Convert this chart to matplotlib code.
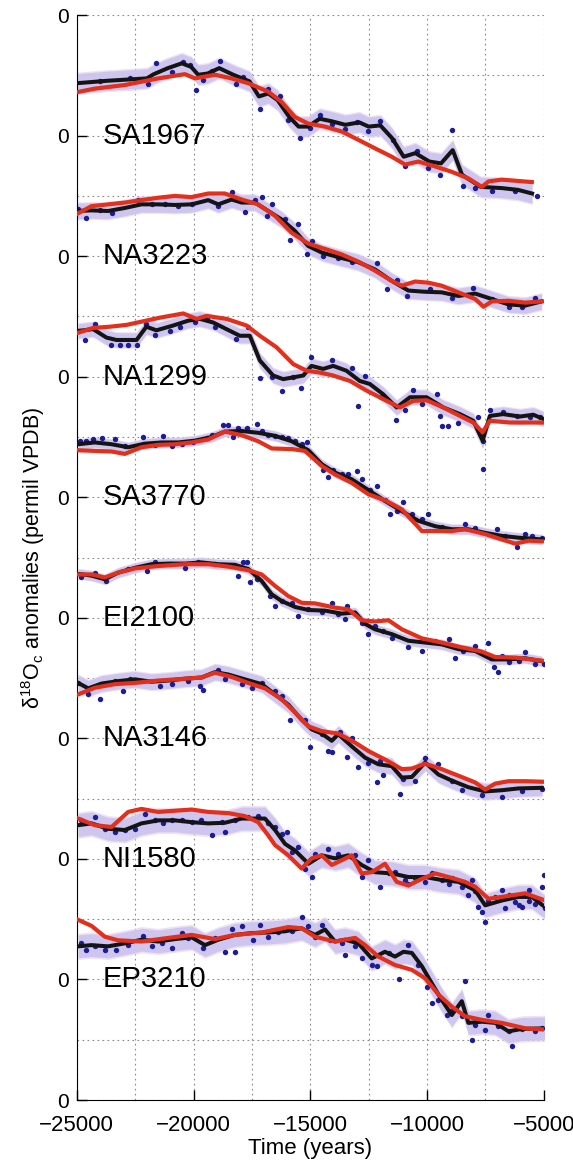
import numpy as np
import matplotlib.pyplot as plt
from matplotlib.ticker import MultipleLocator

plt.rcParams['font.family'] = ['Liberation Sans', 'DejaVu Sans']
plt.rcParams['mathtext.default'] = 'regular'

# core names, vertical offsets (permil) and half width of the shaded band
names = ['SA1967', 'NA3223', 'NA1299', 'SA3770', 'EI2100', 'NA3146', 'NI1580', 'EP3210']
offsets = [16, 14, 12, 10, 8, 6, 4, 2]
band_halfwidth = [0.16, 0.13, 0.12, 0.08, 0.08, 0.13, 0.19, 0.19]

# ---- SA1967 ----
sa1967_black_t = [-25000, -23700, -22000, -21700, -21100, -20500, -20100, -19800, -19400, -18900, -18300,
                  -17600, -17200, -16800, -16400, -15900, -15500, -15100, -14600, -14100, -13500, -12900,
                  -12500, -12000, -11500, -11000, -10500, -9900, -9400, -8900, -8500, -7700, -6800, -6100, -5500]
sa1967_black_v = [0.87, 0.91, 0.95, 1.02, 1.12, 1.20, 1.14, 1.01, 1.03, 1.12, 1.01, 0.90, 0.65, 0.70, 0.59,
                  0.31, 0.15, 0.15, 0.28, 0.24, 0.18, 0.22, 0.15, 0.17, -0.04, -0.35, -0.29, -0.43, -0.46,
                  -0.24, -0.65, -0.85, -0.87, -0.90, -0.96]
sa1967_red_t = [-25000, -24230, -22940, -21510, -20370, -19940, -19080, -18370, -17660, -16800, -16230,
                -15660, -15090, -14370, -13660, -12940, -12230, -11510, -10940, -10370, -9660, -8940,
                -8230, -7650, -7370, -6800, -5510]
sa1967_red_v = [0.72, 0.78, 0.84, 0.95, 1.02, 0.95, 1.01, 0.95, 0.87, 0.73, 0.56, 0.31, 0.20, 0.15, 0.07,
                -0.07, -0.21, -0.35, -0.48, -0.43, -0.51, -0.60, -0.71, -0.85, -0.76, -0.73, -0.77]
sa1967_dot_t = [-24010, -22730, -21940, -21590, -20940, -20440, -20160, -19900, -19590, -19230, -18870,
                -18160, -17870, -17160, -16800, -16300, -15940, -15440, -15010, -14580, -14080, -13510,
                -13010, -12510, -12010, -11440, -10940, -10440, -9940, -9440, -8940, -8440, -7940, -7230,
                -6230, -5300]
sa1967_dot_v = [0.91, 0.96, 0.85, 1.21, 1.06, 1.23, 1.17, 0.75, 0.92, 1.07, 1.24, 0.85, 0.98, 0.44, 0.77,
                0.65, 0.26, -0.04, 0.12, 0.34, 0.20, 0.11, 0.22, 0.08, 0.24, -0.07, -0.51, -0.25, -0.54,
                -0.66, 0.09, -0.83, -0.87, -0.92, -0.92, -1.00]

# ---- NA3223 ----
na3223_black_t = [-25000, -24370, -23660, -22940, -22230, -21510, -20800, -20080, -19370, -18940, -18370,
                  -17940, -17370, -16800, -16230, -15660, -15090, -14510, -13660, -12940, -12230, -11510,
                  -10800, -10090, -9370, -8660, -7940, -7230, -6510, -5800, -5090]
na3223_black_v = [0.75, 0.76, 0.75, 0.80, 0.86, 0.86, 0.85, 0.86, 0.93, 0.86, 0.94, 0.89, 0.89, 0.75, 0.61,
                  0.42, 0.17, 0.06, -0.03, -0.10, -0.22, -0.41, -0.57, -0.59, -0.60, -0.66, -0.62, -0.71,
                  -0.80, -0.82, -0.75]
na3223_red_t = [-25000, -24370, -23660, -22940, -22230, -21510, -20800, -20090, -19370, -18660, -17940,
                -17230, -16510, -15800, -15090, -14370, -13660, -12940, -12230, -11510, -11080, -10510,
                -9940, -9370, -8660, -7940, -7580, -7230, -6510, -5800, -5090]
na3223_red_v = [0.70, 0.83, 0.86, 0.89, 0.93, 0.97, 1.00, 0.98, 1.04, 1.04, 0.94, 0.86, 0.67, 0.39, 0.21,
                0.12, 0.03, -0.09, -0.24, -0.41, -0.49, -0.42, -0.44, -0.49, -0.60, -0.71, -0.84, -0.75,
                -0.74, -0.77, -0.75]
na3223_dot_t = [-24940, -24590, -24010, -23510, -22370, -21800, -21230, -20660, -20080, -18940, -18370,
                -17800, -17370, -17080, -16870, -16650, -16080, -15870, -15510, -15160, -14940, -14440,
                -13800, -13230, -12150, -11730, -11300, -10870, -9870, -8940, -8010, -7220, -6510, -5940,
                -5370]
na3223_dot_v = [0.78, 0.64, 0.76, 0.72, 0.94, 0.86, 0.87, 0.83, 0.86, 0.83, 1.06, 0.74, 0.94, 0.98, 0.67,
                0.87, 0.61, 0.27, 0.53, 0.03, 0.25, 0.01, -0.03, -0.09, -0.12, -0.55, -0.40, -0.66, -0.55,
                -0.69, -0.53, -0.71, -0.85, -0.84, -0.69]

# ---- NA1299 ----
na1299_black_t = [-24940, -24300, -23730, -23300, -22440, -22020, -21590, -20870, -20230, -19730, -19160,
                  -18590, -18020, -17590, -17160, -16590, -16160, -15730, -15300, -14950, -14450, -14020,
                  -13450, -12880, -12450, -11880, -11300, -10730, -10020, -9300, -8590, -8020, -7620,
                  -7310, -6740, -6020, -5450, -5020]
na1299_black_v = [0.76, 0.79, 0.65, 0.61, 0.61, 0.83, 0.77, 0.85, 0.93, 0.96, 0.90, 0.79, 0.68, 0.68, 0.27,
                  0.02, -0.04, -0.01, 0.02, 0.18, 0.13, 0.18, 0.10, -0.07, -0.12, -0.29, -0.51, -0.34,
                  -0.34, -0.51, -0.62, -0.73, -1.06, -0.65, -0.62, -0.66, -0.63, -0.70]
na1299_red_t = [-24940, -24300, -23590, -22870, -22160, -21440, -20440, -19870, -19440, -18590, -17730,
                -17160, -16450, -15730, -15160, -14590, -14020, -13300, -12590, -11880, -11160, -10590,
                -10020, -9300, -8590, -8020, -7620, -7310, -6450, -5020]
na1299_red_v = [0.73, 0.81, 0.83, 0.86, 0.92, 0.98, 1.05, 0.96, 1.01, 0.96, 0.85, 0.68, 0.49, 0.21, 0.10,
                0.07, 0.02, -0.07, -0.23, -0.37, -0.51, -0.40, -0.39, -0.51, -0.65, -0.76, -0.92, -0.73,
                -0.76, -0.76]
na1299_dot_t = [-24940, -24660, -24230, -23520, -23160, -22800, -22440, -22020, -21660, -21020, -20590,
                -19940, -19440, -19090, -18160, -17660, -17160, -16660, -16230, -15730, -15380, -14950,
                -14090, -13230, -12950, -12660, -11950, -11310, -10950, -10590, -10230, -9590, -9450,
                -9380, -9090, -8660, -7810, -7600, -7590, -7310, -6740, -6160, -5590, -5170]
na1299_dot_v = [0.76, 0.61, 0.87, 0.53, 0.53, 0.53, 0.53, 0.87, 0.70, 0.76, 0.82, 0.90, 0.96, 0.82, 0.62,
                0.83, -0.02, -0.01, -0.23, -0.01, -0.18, 0.32, 0.27, 0.15, -0.48, 0.02, -0.34, -0.72,
                -0.56, -0.22, -0.45, -0.29, -0.65, -0.81, -0.81, -0.76, -0.67, -1.53, -1.06, -0.56,
                -0.59, -0.65, -0.67, -0.67]

# ---- SA3770 ----
sa3770_black_t = [-24940, -24230, -23510, -22800, -22080, -21370, -20660, -19940, -19230, -18660, -17940,
                  -17230, -16510, -15800, -15080, -14510, -13940, -13230, -12510, -11800, -11080, -10370,
                  -9650, -8940, -8230, -7510, -6800, -6080, -5080]
sa3770_black_v = [0.88, 0.91, 0.88, 0.83, 0.89, 0.91, 0.91, 0.94, 1.00, 1.09, 1.10, 1.07, 1.02, 0.93, 0.78,
                  0.55, 0.41, 0.30, 0.12, -0.06, -0.23, -0.39, -0.48, -0.53, -0.53, -0.59, -0.64, -0.67,
                  -0.70]
sa3770_red_t = [-24940, -24230, -23510, -22940, -22230, -21510, -20800, -20080, -19370, -18660, -17940,
                -17230, -16650, -15800, -15230, -14510, -13940, -13230, -12510, -11800, -11080, -10220,
                -9650, -8940, -8370, -7510, -6800, -6220, -5650, -5080]
sa3770_red_v = [0.78, 0.77, 0.76, 0.72, 0.83, 0.87, 0.88, 0.91, 0.96, 1.09, 1.03, 0.93, 0.81, 0.80, 0.77,
                0.52, 0.38, 0.24, 0.05, -0.05, -0.20, -0.56, -0.56, -0.56, -0.53, -0.61, -0.70, -0.77,
                -0.72, -0.73]
sa3770_dot_t = [-24870, -24590, -24300, -23940, -23370, -22940, -22160, -21660, -21300, -20940, -20510,
                -20010, -19440, -19230, -18730, -18510, -18300, -18080, -17730, -17300, -17080, -16800,
                -16510, -16230, -15940, -15650, -15370, -15150, -14440, -14230, -14010, -13650, -13370,
                -13010, -12800, -12440, -12150, -11800, -11580, -11300, -11010, -10650, -10220, -9940,
                -9370, -8370, -7940, -7010, -6650, -6150, -5790, -5510, -5080]
sa3770_dot_v = [0.94, 0.94, 0.96, 0.99, 0.96, 0.85, 1.00, 0.87, 1.02, 0.85, 0.88, 0.91, 0.99, 1.04, 1.20,
                1.20, 1.00, 1.15, 1.15, 1.22, 1.10, 1.04, 1.02, 1.00, 0.98, 0.93, 0.89, 0.92, 0.45, 0.34,
                0.45, 0.38, 0.38, 0.44, 0.30, 0.12, 0.19, -0.05, -0.27, -0.23, -0.07, -0.28, -0.36, -0.27,
                -0.50, -0.45, -0.51, -0.53, -0.64, -0.83, -0.61, -0.65, -0.67]

# ---- EI2100 ----
ei2100_black_t = [-24940, -24370, -23800, -23230, -22510, -21800, -21080, -20370, -19660, -18940, -18230,
                  -17650, -17080, -16650, -16230, -15650, -15080, -14370, -13650, -13080, -12650, -12230,
                  -11510, -10800, -10080, -9370, -8650, -7940, -7230, -6510, -5800, -5080]
ei2100_black_v = [0.73, 0.70, 0.64, 0.75, 0.83, 0.89, 0.90, 0.90, 0.92, 0.89, 0.88, 0.81, 0.61, 0.39, 0.28,
                  0.18, 0.13, 0.12, 0.07, 0.09, -0.10, -0.19, -0.27, -0.38, -0.41, -0.44, -0.52, -0.55,
                  -0.69, -0.69, -0.67, -0.72]
ei2100_red_t = [-24940, -24370, -23800, -23230, -22510, -21510, -20370, -19370, -18510, -17650, -17080,
                -16510, -15940, -15370, -14800, -13940, -13370, -12800, -12230, -11650, -11080, -10220,
                -9370, -8510, -7650, -7080, -6220, -5080]
ei2100_red_v = [0.72, 0.72, 0.67, 0.75, 0.82, 0.86, 0.89, 0.89, 0.85, 0.79, 0.72, 0.53, 0.36, 0.25, 0.24,
                0.17, 0.14, -0.04, -0.06, -0.04, -0.19, -0.34, -0.41, -0.49, -0.56, -0.65, -0.66, -0.71]
ei2100_dot_t = [-24800, -24230, -23730, -22800, -22010, -21660, -21010, -20370, -19800, -19080, -18230,
                -18110, -17870, -17730, -17580, -17300, -16730, -16510, -16230, -15800, -15510, -15080,
                -14510, -14080, -13800, -13440, -13510, -12800, -12510, -12230, -11870, -11510, -10800,
                -10220, -9650, -9080, -8800, -8440, -7940, -7370, -7150, -6940, -6800, -6510, -6080,
                -5800, -5370, -5000]
ei2100_dot_v = [0.67, 0.75, 0.61, 0.81, 0.77, 0.93, 0.89, 0.83, 0.92, 0.89, 0.86, 0.70, 0.92, 0.92, 0.59,
                0.64, 0.36, 0.20, 0.28, 0.25, 0.03, 0.14, 0.09, 0.25, 0.06, 0.20, -0.02, -0.08, -0.27,
                -0.13, -0.22, -0.33, -0.49, -0.55, -0.38, -0.35, -0.66, -0.55, -0.46, -0.41, -0.82, -0.90,
                -0.63, -0.74, -0.71, -0.57, -0.77, -0.77]

# ---- NA3146 ----
na3146_black_t = [-24940, -24510, -23940, -23230, -22510, -21800, -21080, -20370, -19660, -19080, -18510,
                  -17800, -17080, -16510, -15940, -15370, -14940, -14510, -14080, -13800, -13230, -12650,
                  -12080, -11510, -11080, -10650, -10080, -9510, -8940, -8230, -7510, -6800, -6080, -5080]
na3146_black_v = [0.92, 0.83, 0.91, 0.95, 0.98, 0.94, 0.96, 0.99, 1.01, 1.10, 1.06, 0.98, 0.90, 0.73, 0.56,
                  0.31, 0.15, 0.08, -0.04, 0.07, -0.13, -0.32, -0.43, -0.46, -0.65, -0.64, -0.40, -0.60,
                  -0.70, -0.81, -0.88, -0.86, -0.83, -0.82]
na3146_red_t = [-24940, -24230, -23370, -22510, -21510, -20370, -19660, -19080, -18370, -17660, -16940,
                -16230, -15650, -15080, -14510, -13800, -13080, -12510, -11800, -11080, -10650, -10080,
                -9370, -8650, -7940, -7510, -7080, -6510, -5800, -5010]
na3146_red_v = [0.73, 0.84, 0.90, 0.92, 0.96, 0.99, 1.01, 1.09, 1.02, 0.92, 0.83, 0.65, 0.43, 0.20, 0.12,
                0.08, -0.07, -0.21, -0.35, -0.51, -0.50, -0.42, -0.51, -0.62, -0.73, -0.85, -0.75, -0.71,
                -0.71, -0.72]
na3146_dot_t = [-24940, -24510, -24010, -23370, -23010, -22730, -22230, -21440, -20940, -20230, -19730,
                -19580, -18940, -18660, -17940, -17510, -17080, -16510, -16230, -15870, -15230, -15010,
                -14510, -14230, -14080, -13730, -13440, -13230, -12940, -12510, -12150, -12010, -11870,
                -11150, -11010, -10510, -10080, -9510, -8940, -8510, -7650, -6800, -5940, -5080]
na3146_dot_v = [0.92, 0.73, 0.66, 0.95, 0.78, 0.98, 0.96, 0.87, 0.90, 0.96, 0.87, 0.81, 1.14, 0.98, 0.91,
                0.83, 0.92, 0.78, 0.70, 0.31, 0.31, -0.15, 0.07, -0.21, -0.22, 0.10, -0.31, 0.00, -0.48,
                -0.40, -0.72, -0.38, -0.61, -0.92, -0.68, -0.71, -0.33, -0.43, -0.71, -0.85, -0.94, -0.97,
                -0.87, -0.84]

# ---- NI1580 ----
ni1580_black_t = [-24940, -24370, -23660, -22940, -22230, -21510, -20800, -20080, -19370, -18660, -17940,
                  -17370, -16940, -16510, -16080, -15650, -15080, -14510, -13940, -13370, -12800, -12230,
                  -11510, -10800, -10080, -9370, -8650, -7940, -7510, -6800, -6080, -5510, -4940]
ni1580_black_v = [0.56, 0.59, 0.50, 0.48, 0.59, 0.64, 0.64, 0.61, 0.59, 0.60, 0.67, 0.67, 0.67, 0.48, 0.25,
                  0.14, -0.08, 0.06, 0.01, 0.06, -0.10, -0.22, -0.24, -0.30, -0.30, -0.35, -0.38, -0.52,
                  -0.77, -0.69, -0.63, -0.63, -0.80]
ni1580_red_t = [-24940, -24230, -23510, -22800, -22230, -21510, -20800, -20080, -19370, -18510, -17800,
                -17230, -16800, -16510, -15940, -15370, -14940, -14510, -14080, -13650, -13230, -12800,
                -12370, -11800, -11300, -10800, -10220, -9650, -9080, -8370, -7940, -7370, -6800, -5800,
                -4940]
ni1580_red_v = [0.67, 0.56, 0.53, 0.78, 0.83, 0.78, 0.80, 0.82, 0.78, 0.76, 0.71, 0.61, 0.39, 0.23, 0.06,
                -0.16, 0.01, 0.06, -0.10, -0.02, 0.06, -0.24, -0.22, -0.08, -0.38, -0.44, -0.33, -0.24,
                -0.30, -0.38, -0.46, -0.66, -0.63, -0.57, -0.69]
ni1580_dot_t = [-24800, -24230, -23800, -23370, -22940, -22510, -22080, -21660, -21300, -20940, -20510,
                -20080, -19660, -19230, -18800, -18660, -18230, -17660, -17230, -16800, -16510, -16230,
                -16010, -15800, -15510, -15230, -14940, -14800, -14230, -13800, -13080, -12800, -12510,
                -12010, -11650, -11370, -10940, -10800, -10510, -10080, -9800, -9370, -9080, -8940,
                -8510, -8230, -8080, -7940, -7800, -7650, -7510, -7370, -7080, -6800, -6650, -6510,
                -6220, -6080, -5940, -5650, -5650, -5370, -5080, -5010, -4940]
ni1580_dot_v = [0.64, 0.69, 0.50, 0.45, 0.48, 0.50, 0.74, 0.64, 0.59, 0.64, 0.65, 0.61, 0.65, 0.39, 0.61,
                0.45, 0.64, 0.70, 0.71, 0.59, 0.53, 0.42, 0.45, 0.12, 0.20, -0.16, -0.30, 0.09, 0.17, 0.08,
                0.06, -0.30, -0.02, -0.46, -0.24, -0.22, -0.35, -0.41, -0.31, -0.38, -0.24, -0.35, -0.41,
                -0.31, -0.46, -0.60, -0.35, -0.54, -0.80, -0.88, -1.04, -0.69, -0.63, -0.52, -0.82,
                -0.60, -0.71, -0.77, -0.80, -0.52, -0.69, -0.74, -0.46, -0.27, -0.82]

# ---- EP3210 ----
ep3210_black_t = [-24940, -24370, -23660, -22940, -22230, -21510, -20800, -20080, -19510, -18940, -18230,
                  -17510, -16800, -16080, -15370, -14800, -14370, -13940, -13510, -12940, -12370, -11800,
                  -11370, -11010, -10650, -10220, -9800, -9370, -8940, -8510, -8230, -7650, -7080, -6510,
                  -5940, -4940]
ep3210_black_v = [0.55, 0.57, 0.55, 0.60, 0.66, 0.63, 0.67, 0.70, 0.57, 0.66, 0.74, 0.77, 0.78, 0.80, 0.85,
                  0.74, 0.83, 0.63, 0.66, 0.60, 0.35, 0.46, 0.38, 0.46, 0.44, 0.22, -0.06, -0.34, -0.59,
                  -0.36, -0.72, -0.70, -0.72, -0.86, -0.82, -0.81]
ep3210_red_t = [-24940, -24370, -23800, -23230, -22230, -21080, -20080, -19080, -18230, -17080, -15940,
                -15370, -14800, -13940, -13080, -12650, -12080, -11370, -10650, -10080, -9510, -8940,
                -8370, -7650, -6800, -5800, -4940]
ep3210_red_v = [0.99, 0.89, 0.71, 0.65, 0.63, 0.69, 0.74, 0.67, 0.74, 0.78, 0.87, 0.85, 0.71, 0.63, 0.69,
                0.57, 0.38, 0.24, 0.16, 0.02, -0.25, -0.45, -0.61, -0.67, -0.72, -0.81, -0.83]
ep3210_dot_t = [-24800, -24590, -24230, -23800, -23300, -22800, -22160, -21800, -21370, -20940, -20510,
                -20230, -19580, -19080, -18660, -18370, -18230, -17940, -17440, -17160, -16800, -16370,
                -15800, -15370, -15080, -14800, -14510, -14160, -13650, -13510, -13080, -12800, -12370,
                -12150, -11650, -11220, -10800, -10370, -10010, -9800, -9510, -9150, -8940, -8510, -8370,
                -8080, -7940, -7510, -7370, -6940, -6510, -6370, -5940, -5370, -5080]
ep3210_dot_v = [0.60, 0.49, 0.55, 0.49, 0.49, 0.57, 0.72, 0.55, 0.60, 0.52, 0.77, 0.69, 0.52, 0.69, 0.45,
                0.83, 0.46, 0.88, 0.66, 0.91, 0.71, 0.78, 0.81, 1.03, 0.88, 0.71, 0.91, 0.66, 0.60, 0.41,
                0.55, 0.35, 0.24, 0.22, 0.44, 0.00, 0.57, 0.24, -0.12, -0.39, -0.34, -0.59, -0.50, -0.61,
                -0.03, -1.00, -0.75, -0.83, -0.59, -0.77, -0.86, -1.11, -0.82, -0.86, -0.81]

black_t = [sa1967_black_t, na3223_black_t, na1299_black_t, sa3770_black_t,
           ei2100_black_t, na3146_black_t, ni1580_black_t, ep3210_black_t]
black_v = [sa1967_black_v, na3223_black_v, na1299_black_v, sa3770_black_v,
           ei2100_black_v, na3146_black_v, ni1580_black_v, ep3210_black_v]
red_t = [sa1967_red_t, na3223_red_t, na1299_red_t, sa3770_red_t,
         ei2100_red_t, na3146_red_t, ni1580_red_t, ep3210_red_t]
red_v = [sa1967_red_v, na3223_red_v, na1299_red_v, sa3770_red_v,
         ei2100_red_v, na3146_red_v, ni1580_red_v, ep3210_red_v]
dot_t = [sa1967_dot_t, na3223_dot_t, na1299_dot_t, sa3770_dot_t,
         ei2100_dot_t, na3146_dot_t, ni1580_dot_t, ep3210_dot_t]
dot_v = [sa1967_dot_v, na3223_dot_v, na1299_dot_v, sa3770_dot_v,
         ei2100_dot_v, na3146_dot_v, ni1580_dot_v, ep3210_dot_v]

fig = plt.figure(figsize=(5.73, 11.61), dpi=100)
ax = fig.add_axes([0.134, 0.0525, 0.815, 0.9345])

for i, name in enumerate(names):
    off = offsets[i]
    w = band_halfwidth[i]
    bt = np.array(black_t[i])
    bv = np.array(black_v[i]) + off
    # fuzzy uncertainty band: pale pink rim plus lavender core
    ax.fill_between(bt, bv - 1.15 * w, bv + 1.15 * w, color='#ead6ec', alpha=0.7, lw=0, zorder=1)
    ax.fill_between(bt, bv - w, bv + w, color='#c9c2ee', alpha=0.85, lw=0, zorder=1)
    ax.scatter(dot_t[i], np.array(dot_v[i]) + off, s=15, color='#1c1c96', lw=0, zorder=2)
    ax.plot(bt, bv, color='#141414', lw=2.9, solid_joinstyle='round', zorder=3)
    ax.plot(red_t[i], np.array(red_v[i]) + off, color='#e2301c', lw=3.0, solid_joinstyle='round', zorder=4)
    ax.text(-23900, off, name, fontsize=21, va='center', ha='left', zorder=5)

ax.set_xlim(-25000, -5000)
ax.set_ylim(0, 18)
ax.set_xticks([-25000, -20000, -15000, -10000, -5000])
ax.xaxis.set_minor_locator(MultipleLocator(2500))
ax.set_yticks(range(0, 19, 2))
ax.set_yticklabels(['0'] * 10)
ax.yaxis.set_minor_locator(MultipleLocator(1))

ax.grid(which='both', linestyle=(0, (1.5, 3)), color='#8a8a8a', lw=0.8, zorder=0)
ax.set_axisbelow(True)
ax.tick_params(which='major', direction='in', length=7, width=1, labelsize=15, pad=6)
ax.tick_params(axis='x', which='major', labelsize=16, pad=11)
ax.tick_params(which='minor', length=0)
ax.spines['top'].set_visible(False)
ax.spines['right'].set_visible(False)

ax.set_xlabel('Time (years)', fontsize=16, labelpad=1)
ax.set_ylabel('δ$^{18}$O$_c$ anomalies (permil VPDB)', fontsize=15.5, labelpad=7)

fig.savefig('out.png', dpi=100)
